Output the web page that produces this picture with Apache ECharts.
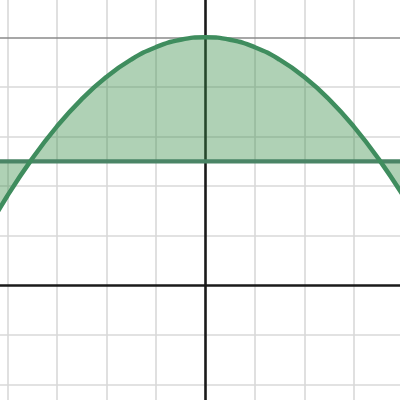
<!DOCTYPE html>
<html>
<head>
<meta charset="utf-8">
<script src="https://cdn.jsdelivr.net/npm/echarts@6/dist/echarts.min.js"></script>
<style>html,body{margin:0;padding:0;background:#fff}#c{width:400px;height:400px}</style>
</head>
<body>
<div id="c"></div>
<script>
// values
const curveX = [-4.5, -4, -3.5, -3, -2.5, -2, -1.5, -1, -0.5, 0, 0.5, 1, 1.5, 2, 2.5, 3, 3.5, 4, 4.5];
const curveY = [0.95, 1.8, 2.55, 3.2, 3.75, 4.2, 4.55, 4.8, 4.95, 5, 4.95, 4.8, 4.55, 4.2, 3.75, 3.2, 2.55, 1.8, 0.95];
const lineLevel = 2.5;
const gridX = [-4, -3, -2, -1, 1, 2, 3];
const gridY = [-2, -1, 1, 2, 3, 4];
const majorY = [5];
const viewX = [-4.147, 3.933];
const viewY = [-2.312, 5.752];

const curveData = curveX.map((x, i) => [x, curveY[i]]);
const minorLines = gridX.map(v => ({ xAxis: v })).concat(gridY.map(v => ({ yAxis: v })));
const majorLines = majorY.map(v => ({ yAxis: v }));
const axisLines = [{ xAxis: 0 }, { yAxis: 0 }];

const chart = echarts.init(document.getElementById('c'), null, { renderer: 'canvas' });
const ml = (data, color, width, z) => ({
  type: 'line', data: [], z: z, silent: true,
  markLine: {
    z: z, silent: true, symbol: 'none', animation: false,
    label: { show: false },
    lineStyle: { color: color, width: width, type: 'solid' },
    emphasis: { disabled: true },
    data: data
  }
});
chart.setOption({
  animation: false,
  grid: { left: 0, right: 0, top: 0, bottom: 0 },
  xAxis: { type: 'value', min: viewX[0], max: viewX[1], show: false },
  yAxis: { type: 'value', min: viewY[0], max: viewY[1], show: false },
  series: [
    ml(minorLines, '#d9d9d9', 1.6, 1),
    ml(majorLines, '#8a8a8a', 1.6, 1),
    ml(axisLines, '#1a1a1a', 2.6, 2),
    {
      type: 'line', data: curveData, smooth: true, showSymbol: false, z: 3,
      lineStyle: { width: 0 },
      areaStyle: { color: '#388c46', opacity: 0.4, origin: lineLevel },
      silent: true
    },
    {
      type: 'line', data: [[-6, lineLevel], [6, lineLevel]], showSymbol: false, z: 4,
      lineStyle: { color: '#4a8566', width: 4.3 }, silent: true
    },
    {
      type: 'line', data: curveData, smooth: true, showSymbol: false, z: 5,
      lineStyle: { color: '#3f8d5e', width: 4.5 }, silent: true
    }
  ]
});
</script>
</body>
</html>
